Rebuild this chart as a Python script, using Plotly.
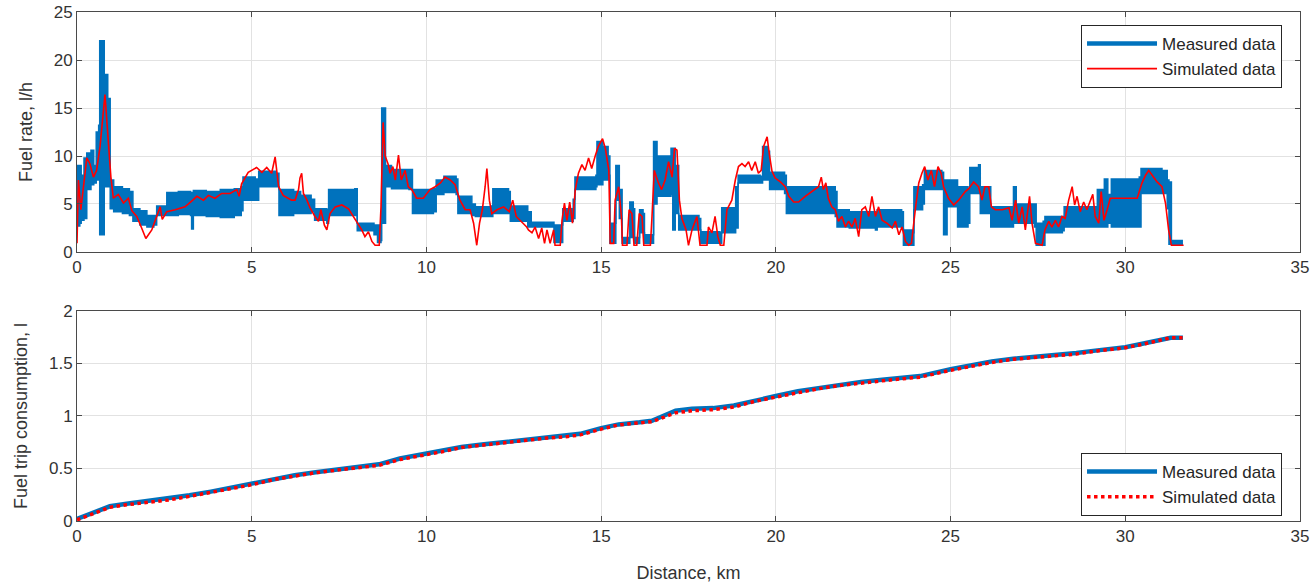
import plotly.graph_objects as go

BLUE = "#0072BD"
RED = "#FF0000"

# ---------------- Top panel: fuel rate (l/h) ----------------
# Measured data: dense oscillating signal, given as lower / upper envelope per distance (km)
meas_x = [0.00, 0.08, 0.12, 0.20, 0.28, 0.40, 0.48, 0.55, 0.62, 0.65, 0.76, 0.78, 0.88, 0.95, 1.05,
          1.30, 1.50, 1.60, 1.80, 2.00, 2.20, 2.28, 2.50, 2.57, 2.90, 3.25, 3.28, 3.33, 3.70, 4.10,
          4.50, 4.70, 4.75, 5.10, 5.20, 5.70, 5.78, 6.20, 6.40, 6.70, 6.80, 7.15, 7.20, 7.95, 8.02,
          8.50, 8.60, 8.70, 8.72, 8.80, 8.83, 9.00, 9.50, 9.60, 10.20, 10.28, 10.50, 10.85, 10.90,
          11.30, 11.40, 11.85, 11.90, 12.35, 12.40, 12.90, 13.00, 13.60, 13.65, 13.83, 13.90, 14.20,
          14.25, 14.85, 14.88, 15.05, 15.20, 15.25, 15.38, 15.42, 15.52, 15.60, 15.78, 15.82, 15.92,
          15.96, 16.08, 16.10, 16.20, 16.24, 16.45, 16.50, 16.60, 17.00, 17.05, 17.12, 17.22, 17.80,
          17.85, 18.40, 18.45, 18.85, 18.92, 19.55, 19.62, 19.78, 19.82, 20.25, 20.30, 21.30, 21.70,
          21.75, 22.10, 22.85, 22.90, 23.60, 23.65, 23.90, 23.95, 24.20, 24.25, 24.75, 24.80, 24.90,
          25.20, 25.50, 25.55, 25.80, 25.85, 26.10, 26.15, 26.75, 26.80, 26.88, 27.40, 27.45, 27.65,
          27.70, 28.20, 28.25, 29.15, 29.20, 29.40, 29.50, 29.60, 30.40, 30.45, 31.05, 31.20, 31.25,
          31.32, 31.65]
meas_lo = [2.7, 3.0, 3.3, 3.5, 6.5, 7.0, 7.2, 7.5, 8.0, 1.8, 1.8, 6.8, 6.8, 4.5, 4.2,
           4.0, 3.8, 3.2, 2.8, 2.6, 2.8, 3.8, 3.8, 3.8, 3.9, 3.8, 2.4, 3.8, 3.7, 3.6,
           3.8, 4.3, 5.4, 5.4, 6.8, 6.8, 3.8, 4.0, 4.0, 4.2, 3.3, 3.0, 3.8, 3.8, 2.2,
           1.8, 1.0, 1.2, 3.0, 3.0, 6.8, 6.6, 6.5, 4.0, 4.2, 6.0, 6.2, 6.0, 4.0,
           3.8, 3.7, 3.7, 4.0, 4.0, 3.2, 2.6, 2.6, 2.6, 1.0, 1.0, 3.2, 3.5,
           6.5, 6.8, 7.0, 7.5, 8.0, 0.9, 0.9, 5.4, 3.5, 0.9, 0.9, 1.5, 1.5,
           0.9, 0.9, 2.0, 2.0, 0.9, 0.9, 5.0, 5.8, 6.0, 2.3, 4.0, 2.3, 2.3,
           0.9, 0.9, 2.0, 2.5, 7.2, 7.2, 7.5, 7.5, 6.5, 6.1, 4.0, 4.0, 3.7,
           2.6, 2.5, 2.3, 2.6, 2.4, 0.7, 0.7, 4.4, 5.0, 6.5, 6.5, 1.8, 4.7,
           2.6, 3.0, 6.1, 6.1, 4.0, 4.0, 2.6, 2.6, 3.0, 3.0, 2.6, 0.7, 0.7,
           2.0, 2.2, 2.6, 2.6, 2.6, 2.6, 3.0, 2.6, 2.6, 6.1, 6.1, 4.5, 0.8,
           0.8, 0.8]
meas_hi = [9.0, 9.0, 8.0, 9.8, 10.3, 10.6, 9.0, 12.5, 13.2, 22.0, 22.0, 18.5, 16.0, 7.5, 6.8,
           6.6, 6.3, 4.5, 4.3, 3.8, 3.8, 4.8, 4.8, 6.2, 6.3, 6.2, 6.2, 6.4, 6.3, 6.5,
           6.6, 6.8, 7.8, 7.6, 8.4, 8.2, 6.5, 6.3, 5.9, 5.5, 4.5, 4.4, 6.5, 6.6, 3.0,
           2.8, 2.8, 3.5, 15.0, 15.0, 9.0, 8.6, 8.6, 6.5, 6.6, 7.5, 7.9, 7.6, 5.8,
           5.0, 4.7, 4.8, 6.6, 6.3, 4.8, 4.2, 3.1, 3.1, 2.8, 2.8, 4.5, 5.5,
           7.8, 8.0, 11.5, 11.0, 10.0, 3.0, 3.0, 9.0, 6.5, 1.5, 1.5, 5.2, 4.5,
           1.5, 1.5, 4.4, 4.0, 1.8, 1.8, 11.5, 10.0, 10.8, 10.8, 9.0, 3.8, 3.5,
           2.1, 2.0, 4.6, 6.8, 8.0, 7.9, 11.0, 10.5, 8.3, 8.0, 6.8, 6.8, 6.3,
           4.4, 4.2, 4.0, 4.4, 4.2, 2.3, 2.0, 6.8, 7.0, 8.5, 8.3, 7.5, 7.5,
           6.8, 6.5, 8.8, 9.1, 6.8, 6.8, 4.7, 4.7, 6.8, 5.0, 5.0, 3.0, 3.2,
           3.7, 3.7, 4.7, 4.7, 6.5, 7.6, 6.0, 7.6, 7.8, 8.7, 8.5, 7.5, 7.3,
           1.2, 1.2]

# Simulated data (red line)
sim_x = [0.00, 0.04, 0.11, 0.18, 0.28, 0.37, 0.47, 0.56, 0.66, 0.80, 0.90, 0.97, 1.04, 1.18, 1.33,
         1.47, 1.57, 1.71, 1.85, 1.97, 2.14, 2.28, 2.38, 2.44, 2.57, 2.81, 3.09, 3.28, 3.43, 3.62,
         3.76, 3.95, 4.14, 4.38, 4.57, 4.64, 4.71, 4.90, 5.14, 5.29, 5.43, 5.57, 5.67, 5.77, 5.90,
         6.14, 6.24, 6.34, 6.38, 6.43, 6.48, 6.58, 6.67, 6.81, 6.91, 6.98, 7.08, 7.15, 7.24, 7.39,
         7.58, 7.77, 7.91, 8.05, 8.15, 8.24, 8.34, 8.44, 8.53, 8.65, 8.70, 8.76, 8.82, 8.90, 8.96,
         9.04, 9.11, 9.20, 9.28, 9.39, 9.48, 9.58, 9.72, 9.91, 10.10, 10.25, 10.40, 10.53, 10.68,
         10.82, 10.96, 11.11, 11.25, 11.35, 11.44, 11.52, 11.60, 11.68, 11.73, 11.80, 11.87, 12.02,
         12.21, 12.37, 12.47, 12.57, 12.72, 12.87, 12.92, 13.02, 13.11, 13.21, 13.30, 13.38, 13.45,
         13.54, 13.64, 13.68, 13.83, 13.88, 13.95, 14.02, 14.10, 14.18, 14.26, 14.35, 14.45, 14.54,
         14.64, 14.73, 14.83, 14.92, 15.04, 15.12, 15.22, 15.26, 15.36, 15.40, 15.50, 15.58, 15.61,
         15.74, 15.80, 15.88, 15.94, 16.02, 16.09, 16.17, 16.22, 16.41, 16.45, 16.52, 16.64, 16.73,
         16.83, 16.93, 17.03, 17.10, 17.17, 17.24, 17.31, 17.43, 17.50, 17.60, 17.74, 17.83, 18.03,
         18.07, 18.17, 18.26, 18.34, 18.41, 18.51, 18.60, 18.74, 18.84, 18.93, 19.03, 19.12, 19.22,
         19.31, 19.41, 19.50, 19.58, 19.65, 19.75, 19.82, 19.89, 19.98, 20.13, 20.27, 20.37, 20.51,
         20.65, 20.84, 21.03, 21.22, 21.30, 21.36, 21.43, 21.50, 21.60, 21.70, 21.79, 21.89, 21.99,
         22.08, 22.18, 22.27, 22.37, 22.46, 22.56, 22.66, 22.75, 22.85, 22.94, 23.04, 23.18, 23.33,
         23.42, 23.52, 23.61, 23.71, 23.80, 23.88, 24.00, 24.09, 24.18, 24.26, 24.35, 24.45, 24.54,
         24.64, 24.73, 24.80, 24.94, 25.09, 25.23, 25.42, 25.52, 25.66, 25.80, 25.90, 25.98, 26.09,
         26.17, 26.28, 26.48, 26.67, 26.76, 26.86, 26.95, 27.05, 27.14, 27.26, 27.33, 27.43, 27.62,
         27.70, 27.81, 27.90, 28.00, 28.09, 28.19, 28.28, 28.38, 28.48, 28.55, 28.62, 28.71, 28.81,
         28.90, 29.00, 29.07, 29.14, 29.24, 29.31, 29.39, 29.48, 29.57, 30.34, 30.48, 30.58, 30.67,
         30.77, 30.91, 31.05, 31.15, 31.24, 31.32, 31.67]
sim_rate = [0.9, 7.5, 4.4, 6.8, 9.8, 9.2, 7.8, 8.5, 11.0, 16.4, 11.7, 7.8, 5.6, 6.0, 5.1,
            5.6, 4.3, 3.7, 2.5, 1.4, 2.3, 3.7, 4.7, 3.4, 4.2, 4.4, 4.7, 5.3, 5.8, 5.4,
            5.9, 5.6, 6.1, 6.1, 6.5, 5.8, 7.1, 8.3, 8.8, 8.3, 8.8, 8.2, 9.9, 6.8, 5.9,
            5.4, 5.4, 6.5, 7.7, 8.2, 6.1, 5.4, 4.6, 3.7, 3.2, 4.4, 2.8, 2.3, 4.0, 4.7,
            4.9, 4.5, 3.7, 2.8, 2.3, 1.6, 2.1, 1.1, 0.7, 0.7, 4.7, 13.5, 10.0, 9.2, 8.2,
            8.9, 7.5, 10.1, 7.5, 8.5, 6.8, 6.5, 5.6, 5.6, 6.5, 6.8, 7.2, 7.8, 7.5,
            7.0, 5.4, 4.4, 4.4, 3.0, 0.7, 3.0, 4.4, 6.8, 8.7, 5.4, 4.0, 4.4,
            4.7, 4.2, 5.4, 3.7, 3.2, 2.6, 2.3, 2.0, 2.6, 1.4, 2.5, 0.9, 2.3,
            0.9, 2.3, 0.7, 0.7, 3.3, 5.1, 3.3, 5.2, 3.0, 6.5, 8.2, 9.1, 8.5,
            9.8, 8.7, 10.0, 11.0, 11.8, 10.8, 8.5, 0.9, 0.9, 5.4, 6.8, 3.7, 0.7,
            0.7, 4.4, 4.0, 0.7, 0.7, 4.0, 3.7, 0.7, 0.7, 3.3, 8.5, 7.2, 6.5,
            7.5, 9.4, 7.8, 10.8, 10.6, 5.4, 3.5, 2.3, 0.7, 2.3, 3.7, 0.7, 0.7,
            2.6, 2.0, 3.7, 1.6, 0.7, 0.7, 4.4, 5.4, 7.5, 8.9, 9.2, 8.9, 9.4,
            8.5, 9.4, 8.2, 8.5, 11.0, 12.0, 10.0, 8.4, 7.7, 7.3, 6.8, 5.8, 5.2,
            5.2, 5.8, 6.3, 6.8, 7.8, 6.5, 7.2, 5.6, 4.7, 4.4, 3.2, 3.7, 2.6,
            3.2, 2.6, 3.5, 1.6, 4.4, 4.7, 3.7, 5.8, 3.7, 4.7, 3.3, 3.0, 2.5,
            3.2, 1.8, 2.6, 1.1, 0.7, 0.9, 4.7, 7.2, 8.2, 8.9, 7.5, 8.5, 6.8,
            8.9, 8.2, 6.8, 5.6, 4.9, 5.4, 6.3, 6.6, 7.3, 6.8, 5.4, 6.8, 6.8,
            4.7, 4.4, 4.4, 4.6, 3.3, 5.4, 3.0, 4.7, 2.3, 5.8, 3.0, 0.9, 0.7,
            2.3, 3.2, 2.6, 3.3, 2.6, 3.7, 3.5, 5.4, 6.8, 4.9, 5.8, 4.2, 5.2,
            4.4, 5.4, 6.0, 3.7, 3.0, 6.3, 3.3, 4.4, 5.6, 5.6, 7.2, 8.0, 8.5,
            8.0, 7.3, 6.8, 5.1, 2.3, 0.7, 0.7]

# ---------------- Bottom panel: cumulative trip consumption (l) ----------------
cum_x = [0.0, 0.5, 0.94, 1.42, 2.02, 2.62, 3.22, 3.83, 4.43, 5.0, 5.63, 6.23, 6.83, 7.44, 8.04,
         8.64, 9.24, 10.0, 10.45, 11.0, 11.65, 12.25, 12.85, 13.45, 14.05, 14.4, 15.0, 15.5, 16.1,
         16.45, 16.77, 17.13, 17.6, 18.2, 18.8, 19.4, 20.0, 20.63, 21.23, 21.83, 22.44, 23.04,
         23.64, 24.13, 25.0, 25.58, 26.18, 26.79, 27.39, 27.99, 28.6, 29.2, 30.0, 30.52, 31.0,
         31.3, 31.65]
cum_meas = [0.02, 0.08, 0.14, 0.165, 0.19, 0.21, 0.245, 0.28, 0.32, 0.355, 0.40, 0.435, 0.465, 0.49, 0.52,
            0.54, 0.595, 0.64, 0.665, 0.705, 0.73, 0.75, 0.775, 0.80, 0.815, 0.83, 0.885, 0.92, 0.94,
            0.955, 1.0, 1.05, 1.07, 1.075, 1.10, 1.15, 1.19, 1.235, 1.265, 1.30, 1.325, 1.345,
            1.365, 1.38, 1.445, 1.48, 1.52, 1.545, 1.56, 1.575, 1.60, 1.625, 1.655, 1.69, 1.73,
            1.745, 1.745]
cum_sim = [0.01, 0.07, 0.13, 0.155, 0.18, 0.20, 0.235, 0.27, 0.31, 0.345, 0.395, 0.43, 0.46, 0.485, 0.51,
           0.53, 0.585, 0.63, 0.66, 0.70, 0.725, 0.745, 0.77, 0.79, 0.805, 0.82, 0.875, 0.915, 0.935,
           0.945, 0.985, 1.03, 1.05, 1.06, 1.085, 1.14, 1.18, 1.225, 1.26, 1.29, 1.315, 1.335,
           1.355, 1.37, 1.435, 1.475, 1.51, 1.54, 1.555, 1.57, 1.59, 1.62, 1.65, 1.685, 1.725,
           1.745, 1.745]

fig = go.Figure()

# measured band (top panel): lower envelope, then upper envelope filled down to it
fig.add_trace(go.Scatter(x=meas_x, y=meas_lo, mode="lines", line=dict(color=BLUE, width=1.5, shape="hv"),
                         showlegend=False, hoverinfo="skip", xaxis="x", yaxis="y"))
fig.add_trace(go.Scatter(x=meas_x, y=meas_hi, mode="lines", line=dict(color=BLUE, width=1.5, shape="hv"),
                         fill="tonexty", fillcolor=BLUE, showlegend=False, hoverinfo="skip",
                         xaxis="x", yaxis="y"))
fig.add_trace(go.Scatter(x=[None], y=[None], mode="lines", line=dict(color=BLUE, width=4.5),
                         name="Measured data", xaxis="x", yaxis="y", legend="legend"))
fig.add_trace(go.Scatter(x=sim_x, y=sim_rate, mode="lines", line=dict(color=RED, width=1.6),
                         name="Simulated data", xaxis="x", yaxis="y", legend="legend"))

# bottom panel
fig.add_trace(go.Scatter(x=cum_x, y=cum_meas, mode="lines", line=dict(color=BLUE, width=4.5),
                         name="Measured data", xaxis="x2", yaxis="y2", legend="legend2"))
fig.add_trace(go.Scatter(x=cum_x, y=cum_sim, mode="lines", line=dict(color=RED, width=3.5, dash="dot"),
                         name="Simulated data", xaxis="x2", yaxis="y2", legend="legend2"))

FONT = "Liberation Sans, Arial, sans-serif"
AX_COL = "#333333"
axis_common = dict(showline=True, linecolor="#4a4a4a", linewidth=1, mirror="ticks",
                   ticks="inside", ticklen=5, tickcolor="#4a4a4a", showgrid=True,
                   gridcolor="#E2E2E2", gridwidth=1, zeroline=False, automargin=False,
                   tickfont=dict(family=FONT, size=17, color=AX_COL))

legend_common = dict(bgcolor="white", bordercolor="#262626", borderwidth=1,
                     font=dict(family=FONT, size=17, color="#262626"),
                     xanchor="right", yanchor="top", tracegroupgap=0, itemwidth=70,
                     traceorder="normal")

fig.update_layout(
    width=1313, height=586,
    margin=dict(l=77, r=13, t=12, b=65, autoexpand=False),
    paper_bgcolor="white", plot_bgcolor="white",
    font=dict(family=FONT, color=AX_COL),
    xaxis=dict(domain=[0, 1], range=[0, 35], dtick=5, anchor="y", **axis_common),
    yaxis=dict(domain=[0.5285, 1.0], range=[0, 25], dtick=5, anchor="x",
               title=dict(text="Fuel rate, l/h", font=dict(family=FONT, size=18, color=AX_COL), standoff=16),
               **axis_common),
    xaxis2=dict(domain=[0, 1], range=[0, 35], dtick=5, anchor="y2",
                title=dict(text="Distance, km", font=dict(family=FONT, size=18, color=AX_COL), standoff=20),
                **axis_common),
    yaxis2=dict(domain=[0.0, 0.4126], range=[0, 2], dtick=0.5, anchor="x2",
                title=dict(text="Fuel trip consumption, l", font=dict(family=FONT, size=18, color=AX_COL), standoff=16),
                **axis_common),
    legend=dict(x=0.9853, y=0.9745, **legend_common),
    legend2=dict(x=0.9853, y=0.1336, **legend_common),
    showlegend=True,
)

fig.write_html("out.html")
